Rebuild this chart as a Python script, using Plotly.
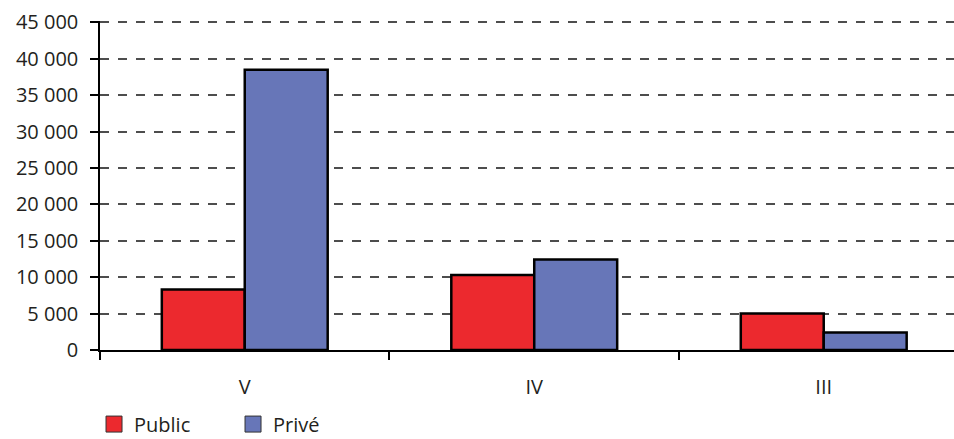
import plotly.graph_objects as go

categories = ["V", "IV", "III"]
series_names = ["Public", "Privé"]
public_values = [8300, 10300, 5000]
prive_values = [38500, 12450, 2400]
y_tick_values = [0, 5000, 10000, 15000, 20000, 25000, 30000, 35000, 40000, 45000]
y_tick_labels = ["0", "5 000", "10 000", "15 000", "20 000", "25 000", "30 000", "35 000", "40 000", "45 000"]

colors = ["#EC292E", "#6776B8"]
FONT = "Open Sans"

fig = go.Figure()
for name, vals, col in zip(series_names, [public_values, prive_values], colors):
    fig.add_trace(go.Bar(
        x=categories, y=vals, name=name,
        marker=dict(color=col, line=dict(color="#000000", width=2.5)),
        showlegend=False,
    ))
    # legend proxy with larger square symbol
    fig.add_trace(go.Scatter(
        x=[None], y=[None], mode="markers", name=name,
        marker=dict(symbol="square", size=16, color=col, line=dict(color="#333333", width=1)),
        showlegend=True,
    ))

fig.update_layout(
    width=954, height=439,
    margin=dict(l=100, r=0, t=21, b=89),
    paper_bgcolor="white", plot_bgcolor="white",
    barmode="group", bargap=0.427, bargroupgap=0,
    font=dict(family=FONT, size=20, color="#231F20"),
    legend=dict(orientation="h", x=-0.007, xanchor="left",
                yref="container", y=0.034, yanchor="middle",
                font=dict(size=20), itemwidth=30, tracegroupgap=0,
                entrywidth=94, entrywidthmode="pixels",
                bgcolor="rgba(0,0,0,0)"),
)
fig.update_xaxes(
    range=[-0.5, 2.45], automargin=False,
    showline=True, linecolor="#000000", linewidth=1.5,
    ticks="outside", tickson="boundaries", ticklen=8, tickcolor="#000000", tickwidth=1.5,
    showgrid=False, zeroline=False,
    ticklabelstandoff=18,
)
fig.update_yaxes(
    range=[0, 45200], automargin=False,
    tickvals=y_tick_values, ticktext=y_tick_labels,
    showline=True, linecolor="#000000", linewidth=1.5,
    ticks="outside", ticklen=8, tickcolor="#000000", tickwidth=1.5,
    showgrid=True, gridcolor="#4D4D4D", gridwidth=1.5, griddash="9px,9px",
    zeroline=False,
    ticklabelstandoff=8,
)

fig.write_html("out.html", config={"displayModeBar": False},
               post_script="document.body.style.margin='0';")
